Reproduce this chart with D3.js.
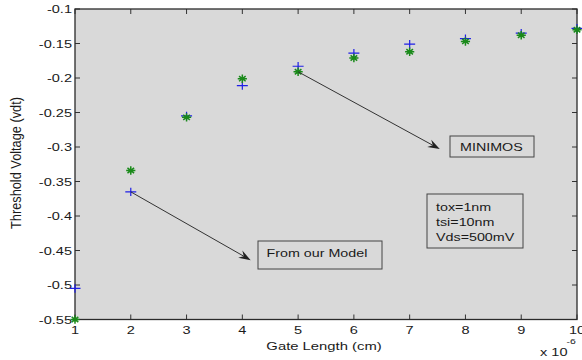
<!DOCTYPE html>
<html>
<head>
<meta charset="utf-8">
<script src="https://cdn.jsdelivr.net/npm/d3@7"></script>
<style>
  html, body { margin: 0; padding: 0; background: #fff; }
  svg { display: block; }
  text { font-family: "Liberation Sans", Arial, Helvetica, sans-serif; fill: #1a1a1a; }
</style>
</head>
<body>
<svg id="chart" width="582" height="360"></svg>
<script>
// Gate length (units of 1e-6 cm)
const gateLength = [1, 2, 3, 4, 5, 6, 7, 8, 9, 10];
// Threshold voltage from the analytical model (blue +)
const vthModel = [-0.505, -0.365, -0.255, -0.211, -0.183, -0.164, -0.151, -0.143, -0.135, -0.128];
// Threshold voltage from MINIMOS simulation (green *)
const vthMinimos = [-0.55, -0.334, -0.257, -0.201, -0.191, -0.171, -0.162, -0.147, -0.138, -0.130];

const xTicks = [1, 2, 3, 4, 5, 6, 7, 8, 9, 10];
const yTicks = [-0.55, -0.5, -0.45, -0.4, -0.35, -0.3, -0.25, -0.2, -0.15, -0.1];

const paramLines = ["tox=1nm", "tsi=10nm", "Vds=500mV"];

const svg = d3.select("#chart");
const box = { left: 75, right: 577, top: 9, bottom: 319.5 };
const SX = 1.3; // horizontal stretch of glyphs and markers

const x = d3.scaleLinear().domain([1, 10]).range([box.left, box.right]);
const y = d3.scaleLinear().domain([-0.55, -0.1]).range([box.bottom, box.top]);

// stretched text helper
function label(g, str, px, py, opts = {}) {
  const t = g.append("text")
    .attr("transform", `translate(${px},${py}) scale(${SX},1)`)
    .attr("font-size", opts.size || 11)
    .attr("text-anchor", opts.anchor || "start")
    .text(str);
  return t;
}

// axes background
svg.append("rect")
  .attr("x", box.left).attr("y", box.top)
  .attr("width", box.right - box.left).attr("height", box.bottom - box.top)
  .attr("fill", "#d9d9d9");

// inward ticks on all four sides
const tickLen = 5;
const ticks = svg.append("g").attr("stroke", "#333").attr("stroke-width", 1);
xTicks.forEach(v => {
  ticks.append("line").attr("x1", x(v)).attr("x2", x(v)).attr("y1", box.bottom).attr("y2", box.bottom - tickLen);
  ticks.append("line").attr("x1", x(v)).attr("x2", x(v)).attr("y1", box.top).attr("y2", box.top + tickLen);
});
yTicks.forEach(v => {
  ticks.append("line").attr("y1", y(v)).attr("y2", y(v)).attr("x1", box.left).attr("x2", box.left + tickLen);
  ticks.append("line").attr("y1", y(v)).attr("y2", y(v)).attr("x1", box.right).attr("x2", box.right - tickLen);
});

// frame
svg.append("rect")
  .attr("x", box.left).attr("y", box.top)
  .attr("width", box.right - box.left).attr("height", box.bottom - box.top)
  .attr("fill", "none").attr("stroke", "#2a2a2a").attr("stroke-width", 1.3);

// tick labels
const tl = svg.append("g");
xTicks.forEach(v => label(tl, String(v), x(v), 333.5, { anchor: "middle", size: 11.2 }));
yTicks.forEach(v => label(tl, String(+v.toFixed(2)), 72, y(v) + 4, { anchor: "end", size: 11.2 }));

// axis titles
label(svg, "Gate Length (cm)", 324, 349.5, { anchor: "middle", size: 11.4 });
label(svg, "x 10", 540, 355.5, { size: 11.2 });
label(svg, "-6", 566.5, 344, { size: 8 });

svg.append("text")
  .attr("transform", `translate(21,163) rotate(-90) scale(1,${SX})`)
  .attr("font-size", 11)
  .attr("text-anchor", "middle")
  .attr("textLength", 132)
  .attr("lengthAdjust", "spacingAndGlyphs")
  .text("Threshold Voltage (vdt)");

// markers
const hx = 5.5, hy = 4.2;
const plus = (cx, cy) => `M${cx - hx},${cy}H${cx + hx}M${cx},${cy - hy}V${cy + hy}`;
const sx = 4.6, sy = 3.6;
const star = (cx, cy) =>
  `M${cx - sx},${cy}H${cx + sx}M${cx},${cy - sy - 0.6}V${cy + sy + 0.6}` +
  `M${cx - sx * 0.72},${cy - sy * 0.72}L${cx + sx * 0.72},${cy + sy * 0.72}` +
  `M${cx - sx * 0.72},${cy + sy * 0.72}L${cx + sx * 0.72},${cy - sy * 0.72}`;

svg.append("g").selectAll("path")
  .data(gateLength.map((g, i) => [g, vthModel[i]]))
  .join("path")
  .attr("d", d => plus(x(d[0]), y(d[1])))
  .attr("stroke", "#1f1fe6").attr("stroke-width", 1.2).attr("fill", "none");

svg.append("g").selectAll("path")
  .data(gateLength.map((g, i) => [g, vthMinimos[i]]))
  .join("path")
  .attr("d", d => star(x(d[0]), y(d[1])))
  .attr("stroke", "#1a8a1a").attr("stroke-width", 1.5).attr("fill", "none");

// annotation arrows (data coordinates)
const arrows = [
  { from: [2, vthModel[1]], to: [4.15, -0.464] },
  { from: [5, vthMinimos[4]], to: [7.54, -0.303] }
];
arrows.forEach(a => {
  const x1 = x(a.from[0]), y1 = y(a.from[1]);
  const x2 = x(a.to[0]), y2 = y(a.to[1]);
  const ang = Math.atan2(y2 - y1, x2 - x1);
  const L = 12, W = 4.2, notch = 8;
  const ux = Math.cos(ang), uy = Math.sin(ang);
  const px = -uy, py = ux;
  const bx = x2 - ux * L, by = y2 - uy * L;
  const nx = x2 - ux * notch, ny = y2 - uy * notch;
  svg.append("line")
    .attr("x1", x1).attr("y1", y1).attr("x2", nx).attr("y2", ny)
    .attr("stroke", "#333").attr("stroke-width", 1);
  svg.append("path")
    .attr("d", `M${x2},${y2}L${bx + px * W},${by + py * W}L${nx},${ny}L${bx - px * W},${by - py * W}Z`)
    .attr("fill", "#222").attr("stroke", "none");
});

// text boxes
const ann = svg.append("g");
function textBox(x0, y0, x1, y1) {
  ann.append("rect").attr("x", x0).attr("y", y0)
    .attr("width", x1 - x0).attr("height", y1 - y0)
    .attr("fill", "none").attr("stroke", "#444").attr("stroke-width", 1);
}
textBox(450, 136, 534, 157);
label(ann, "MINIMOS", 460, 150.5, { size: 11 });

textBox(258, 241, 382, 269);
label(ann, "From our Model", 266.5, 256.5, { size: 11 });

textBox(427, 194, 523, 248);
paramLines.forEach((s, i) => label(ann, s, 436, 211 + i * 15, { size: 11 }));
</script>
</body>
</html>
